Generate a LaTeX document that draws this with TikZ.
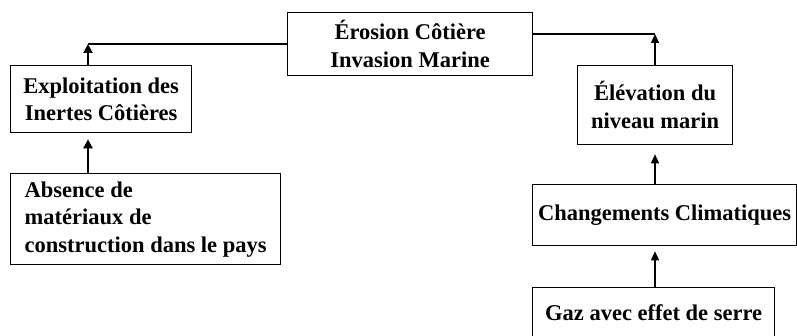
\documentclass[tikz,border=0pt]{standalone}
\usepackage{fontspec}
\setmainfont{Liberation Serif}
\usetikzlibrary{arrows.meta}
\begin{document}
\begin{tikzpicture}[x=1pt,y=-1pt,
  box/.style={draw, line width=1.3pt, inner sep=0pt, anchor=north west, align=center,
    font=\fontsize{22.5}{27.5}\selectfont\bfseries},
  arr/.style={-{Triangle[width=8pt,length=9pt]}, line width=1.5pt},
  thickarr/.style={-{Triangle[width=9pt,length=9pt]}, line width=2.8pt},
  conn/.style={line width=1.5pt}]
\useasboundingbox (0,0) rectangle (797,336);
\clip (0,0) rectangle (797,336);
\node[box, minimum width=245pt, minimum height=63pt] (top) at (287,12) {Érosion Côtière\\Invasion Marine};
\node[box, minimum width=181pt, minimum height=67pt] (expl) at (10,65) {Exploitation des\\Inertes Côtières};
\node[box, minimum width=270pt, minimum height=91pt, align=left] (abs) at (10,173) {Absence de\\matériaux de\\construction dans le pays};
\node[box, minimum width=155pt, minimum height=79pt] (elev) at (577,65) {Élévation du\\niveau marin};
\node[box, minimum width=264pt, minimum height=61pt] (chg) at (532,184) {Changements Climatiques};
\node[box, minimum width=242pt, minimum height=50pt] (gaz) at (532,287) {Gaz avec effet de serre};
\coordinate (cL) at (88,44);
\coordinate (cR) at (655,34);
\draw[conn] (top.west |- cL) -- (cL);
\draw[thickarr] (expl.north -| cL) -- (cL);
\draw[thickarr, shorten >=6pt] (abs.north -| cL) -- (expl.south -| cL);
\draw[conn] (top.east |- cR) -- (cR);
\draw[arr] (elev.north -| cR) -- (cR);
\draw[arr, shorten >=9pt] (chg.north -| cR) -- (elev.south -| cR);
\draw[arr, shorten >=5pt] (gaz.north -| cR) -- (chg.south -| cR);
\end{tikzpicture}
\end{document}
